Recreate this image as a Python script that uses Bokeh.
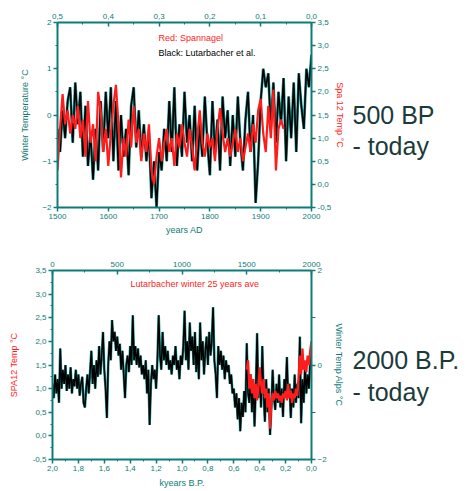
from bokeh.plotting import figure
from bokeh.models import Range1d, LinearAxis, FixedTicker, CustomJSTickFormatter, Label
from bokeh.layouts import column, row
from bokeh.embed import file_html
from bokeh.resources import INLINE

TEAL = "#0f7b78"
TEAL_EDGE = "#1f9a96"
RED = "#ff1c1c"
BIG = "#1b3b3b"
FONT = "Liberation Sans"

# ---------------- top panel: 500 BP - today ----------------
lut_years = list(range(1500, 2001, 5))
lut_winter = [
    -0.3, -0.8, 0.1, -0.5, 0.3, 0.6, -0.6, 0.7, -0.2, 0.5,
    -0.9, 0.2, -1.1, -0.4, -1.4, -0.3, -1.2, 0.3, -0.8, 0.5,
    -0.5, 0.6, -1.0, 0.3, -1.2, 0.0, -0.9, -0.3, -1.3, 0.2,
    0.6, -0.7, 0.1, -0.9, -0.2, -1.0, -0.4, -1.8, -1.0, -2.0,
    -0.8, -1.2, -0.3, -1.0, 0.3, -0.8, 0.6, -1.1, -0.2, -0.9,
    0.5, -0.6, 0.0, -1.0, 0.2, -1.2, -0.2, -0.9, 0.4, -0.6,
    -1.3, 0.3, -0.8, -0.1, -1.2, 0.4, -0.5, 0.1, -1.1, 0.0,
    -0.9, 0.4, -0.6, -1.2, -0.1, 0.5, -0.8, 0.0, -1.9, -1.0,
    0.3, 1.0, 0.6, 0.9, -0.3, 0.7, -0.6, 0.5, -0.2, 0.8,
    -1.0, 0.4, -0.5, 0.7, -0.8, 0.9, 0.2, -0.3, 1.0, 0.6,
    1.3,
]
spa_years = list(range(1500, 1950, 5))
spa_temp = [
    0.3, 1.2, 1.95, 1.3, 1.6, 1.1, 1.5, 1.2, 1.7, 1.0,
    1.4, 0.6, 1.8, 0.9, 1.3, 0.5, 2.0, 1.6, 0.7, 1.2,
    0.4, 1.1, 1.7, 2.15, 1.3, 0.15, 1.0, 0.6, 1.4, 0.8,
    1.7, 0.9, 1.2, 0.5, 1.1, 0.7, 1.3, 0.3, 0.0, 0.6,
    1.0, 0.5, 0.9, 1.2, 0.7, 1.0, 0.4, 1.1, 0.8, 1.3,
    0.9, 0.6, 1.2, 0.8, 0.3, 1.0, 1.6, 0.9, 0.6, 1.1,
    0.8, 1.0, 0.5, 1.2, 1.65, 1.1, 0.7, 1.0, 0.6, 0.9,
    1.2, 0.7, 1.0, 0.5, 0.8, 1.1, 0.7, 1.3, 0.9, 1.6,
    1.85, 1.1, 0.7, 1.7, 1.0, 2.05, 0.3, 1.2, 1.4, 1.2,
]
top_year_ticks = [1500, 1600, 1700, 1800, 1900, 2000]
top_bp_ticks = [0.0, 0.1, 0.2, 0.3, 0.4, 0.5]
top_winter_ticks = [-2, -1, 0, 1, 2]
top_spa_ticks = [-0.5, 0.0, 0.5, 1.0, 1.5, 2.0, 2.5, 3.0, 3.5]

# ---------------- bottom panel: 2000 B.P. - today ----------------
spa12_years = list(range(0, 2001, 10))
spa12_temp = [
    1.1, 0.8, 1.3, 0.9, 1.2, 0.7, 1.85, 1.0, 1.4, 1.1,
    1.5, 0.95, 1.3, 1.0, 1.45, 0.9, 1.2, 1.05, 1.4, 1.0,
    1.3, 0.85, 1.1, 1.25, 0.7, 0.6, 1.0, 1.3, 0.9, 1.35,
    1.8, 1.1, 1.5, 1.0, 1.6, 1.25, 1.9, 1.3, 1.7, 2.2,
    1.4, 1.0, 0.38, 1.5, 2.0, 1.6, 2.45, 2.0, 2.2, 1.8,
    2.1, 1.7, 1.95, 1.4, 1.8, 1.3, 0.8, 1.5, 1.7, 1.35,
    1.9, 1.5, 2.55, 1.6, 1.9, 1.5, 1.85, 1.45, 1.7, 1.3,
    1.5, 1.2, 1.6, 0.9, 1.4, 0.23, 1.1, 1.5, 1.2, 1.4,
    1.0, 1.6, 2.55, 1.7, 1.4, 2.2, 1.6, 1.9, 1.5, 1.8,
    1.4, 1.6, 1.3, 1.7, 1.5, 1.9, 1.4, 1.6, 1.2, 1.7,
    1.5, 1.9, 2.65, 1.6, 2.0, 1.4, 2.4, 1.8, 2.1, 1.5,
    2.2, 1.35, 1.9, 1.2, 2.4, 1.6, 2.0, 1.3, 1.8, 2.1,
    1.5, 2.2, 1.7, 2.0, 2.72, 1.6, 1.3, 0.8, 1.9, 1.5,
    1.8, 1.4, 1.7, 1.2, 1.6, 1.35, 1.5, 1.1, 1.3, 0.9,
    1.0, 0.6, 0.9, 0.35, 0.8, 0.1, 0.7, 0.4, 0.95, 0.5,
    1.96, 0.9, 0.7, 1.3, 0.5, 1.1, 0.2, 1.0, 2.17, 0.8,
    1.4, 0.6, 1.9, 0.9, 0.3, 1.2, 0.5, 1.0, 0.02, 0.6,
    1.4, 0.8, 0.55, 1.1, 0.7, 1.3, 0.6, 1.0, 0.4, 1.2,
    0.9, 1.67, 0.8, 1.1, 0.38, 1.0, 0.6, 1.3, 0.7, 1.1,
    0.8, 2.1, 0.27, 1.2, 0.7, 1.5, 0.9, 1.3, 1.0, 1.6,
    1.8,
]
lut25_years = list(range(1500, 2001, 10))
lut25_winter = [
    -0.1, 0.1, -0.5, -0.2, -0.6, -0.3, -0.7, -0.4, -0.75, -0.5,
    -0.05, -0.4, -0.6, -0.3, -0.7, -0.5, -0.9, -0.6, -1.35, -0.8,
    -0.6, -0.75, -0.55, -0.7, -0.6, -0.75, -0.65, -0.8, -0.6, -0.7,
    -0.55, -0.75, -0.4, -0.7, -0.55, -0.8, -0.6, -0.7, -0.5, -0.65,
    -0.3, 0.2, -0.2, 0.35, -0.1, 0.1, -0.15, 0.2, 0.0, 0.3,
    0.5,
]
bot_kbp_ticks = [0.0, 0.2, 0.4, 0.6, 0.8, 1.0, 1.2, 1.4, 1.6, 1.8, 2.0]
bot_year_ticks = [0, 500, 1000, 1500, 2000]
bot_spa_ticks = [-0.5, 0.0, 0.5, 1.0, 1.5, 2.0, 2.5, 3.0, 3.5]
bot_winter_ticks = [-2, 0, 2]


def comma(d):
    return CustomJSTickFormatter(code="return tick.toFixed(%d).replace('.', ',');" % d)


def style(ax, label_color=TEAL, inward=False, label_standoff=3, tick_standoff=2):
    ax.axis_line_color = TEAL
    ax.axis_line_width = 2
    ax.major_tick_line_color = TEAL
    ax.minor_tick_line_color = TEAL
    ax.major_tick_line_width = 1.5
    ax.minor_tick_line_width = 1
    if inward:
        ax.major_tick_in, ax.major_tick_out = 4, 0
        ax.minor_tick_in, ax.minor_tick_out = 2, 0
    else:
        ax.major_tick_in, ax.major_tick_out = 0, 4
        ax.minor_tick_in, ax.minor_tick_out = 0, 2
    ax.major_label_text_color = TEAL
    ax.major_label_text_font_size = "8px"
    ax.major_label_text_font = FONT
    ax.major_label_standoff = tick_standoff
    ax.axis_label_text_font_size = "9px"
    ax.axis_label_text_font_style = "normal"
    ax.axis_label_text_font = FONT
    ax.axis_label_text_color = label_color
    ax.axis_label_standoff = label_standoff


def minor(ticks, step):
    return [t + step for t in ticks[:-1]]


def clean(p):
    p.grid.visible = False
    p.outline_line_color = None
    p.background_fill_color = "white"
    p.border_fill_color = "white"


# ---------- figure 1 ----------
p1 = figure(width=348, height=245, x_range=Range1d(1500, 2000), y_range=Range1d(-2, 2),
            output_backend="svg", toolbar_location=None,
            min_border_left=57, min_border_right=37, min_border_top=22, min_border_bottom=38)
p1.extra_x_ranges = {"bp": Range1d(0.5, 0.0)}
p1.extra_y_ranges = {"spa": Range1d(-0.5, 3.5)}
clean(p1)

xa = p1.xaxis[0]
xa.ticker = FixedTicker(ticks=top_year_ticks, minor_ticks=minor(top_year_ticks, 50))
xa.axis_label = "years AD"
style(xa, label_standoff=3)

ya = p1.yaxis[0]
ya.ticker = FixedTicker(ticks=top_winter_ticks, minor_ticks=minor(top_winter_ticks, 0.5))
ya.axis_label = "Winter Temperature °C"
style(ya, label_standoff=9)

ta = LinearAxis(x_range_name="bp", ticker=FixedTicker(ticks=top_bp_ticks, minor_ticks=minor(top_bp_ticks, 0.05)),
                formatter=comma(1))
style(ta, inward=True, tick_standoff=4)
p1.add_layout(ta, "above")

ra = LinearAxis(y_range_name="spa", ticker=FixedTicker(ticks=top_spa_ticks), formatter=comma(1),
                axis_label="Spa 12 Temp °C")
style(ra, label_color=RED, label_standoff=1)
p1.add_layout(ra, "right")

p1.line(lut_years, lut_winter, line_color=TEAL_EDGE, line_width=2.8)
p1.line(lut_years, lut_winter, line_color="black", line_width=1.6)
p1.line(spa_years, spa_temp, y_range_name="spa", line_color=RED, line_width=2.2)

p1.add_layout(Label(x=101, y=170, x_units="screen", y_units="screen", text="Red: Spannagel",
                    text_color=RED, text_font_size="9px", text_font=FONT, text_baseline="middle"))
p1.add_layout(Label(x=101, y=155, x_units="screen", y_units="screen", text="Black: Lutarbacher et al.",
                    text_color="black", text_font_size="9px", text_font=FONT, text_baseline="middle"))

# ---------- figure 2 ----------
p2 = figure(width=348, height=246, x_range=Range1d(0, 2000), y_range=Range1d(-0.5, 3.5),
            output_backend="svg", toolbar_location=None,
            min_border_left=52, min_border_right=37, min_border_top=25, min_border_bottom=32)
p2.extra_x_ranges = {"kbp": Range1d(2.0, 0.0)}
p2.extra_y_ranges = {"lut": Range1d(-2, 2)}
clean(p2)

p2.xaxis.visible = False
ya2 = p2.yaxis[0]
ya2.ticker = FixedTicker(ticks=bot_spa_ticks, minor_ticks=minor(bot_spa_ticks, 0.25))
ya2.formatter = comma(1)
ya2.axis_label = "SPA12 Temp °C"
style(ya2, label_color=RED, label_standoff=11)

ba = LinearAxis(x_range_name="kbp", ticker=FixedTicker(ticks=bot_kbp_ticks, minor_ticks=minor(bot_kbp_ticks, 0.1)),
                formatter=comma(1), axis_label="kyears B.P.")
style(ba, label_standoff=4)
p2.add_layout(ba, "below")

ta2 = LinearAxis(ticker=FixedTicker(ticks=bot_year_ticks, minor_ticks=minor(bot_year_ticks, 250)))
style(ta2, inward=True, tick_standoff=4)
p2.add_layout(ta2, "above")

ra2 = LinearAxis(y_range_name="lut", ticker=FixedTicker(ticks=bot_winter_ticks, minor_ticks=[-1, 1]),
                 axis_label="Winter Temp Alps °C")
style(ra2, label_standoff=4)
ra2.minor_tick_out = 4
p2.add_layout(ra2, "right")

p2.line(spa12_years, spa12_temp, line_color=TEAL_EDGE, line_width=2.6)
p2.line(spa12_years, spa12_temp, line_color="black", line_width=1.5)
p2.line(lut25_years, lut25_winter, y_range_name="lut", line_color=RED, line_width=2.3)

p2.add_layout(Label(x=78, y=176, x_units="screen", y_units="screen", text="Lutarbacher winter 25 years ave",
                    text_color=RED, text_font_size="9px", text_font=FONT, text_baseline="middle"))


# ---------- side captions (frame y range set in page pixels, top down) ----------
def caption(h, y_bottom, y_top, line1, y1, y2):
    t = figure(width=118, height=h, x_range=Range1d(0, 118), y_range=Range1d(y_bottom, y_top),
               output_backend="svg", toolbar_location=None, x_axis_type=None, y_axis_type=None,
               min_border_left=0, min_border_right=0, min_border_top=0, min_border_bottom=0)
    clean(t)
    t.add_layout(Label(x=4, y=y1, text=line1,
                       text_color=BIG, text_font_size="25px", text_font=FONT, text_baseline="middle"))
    t.add_layout(Label(x=4, y=y2, text="- today",
                       text_color=BIG, text_font_size="25px", text_font=FONT, text_baseline="middle"))
    return t


c1 = caption(245, 207, 22, "500 BP", 114, 145)
c2 = caption(246, 459, 270, "2000 B.P.", 359, 391)

layout = column(row(p1, c1, spacing=0), row(p2, c2, spacing=0), spacing=0)
open("out.html", "w").write(file_html(layout, INLINE))
